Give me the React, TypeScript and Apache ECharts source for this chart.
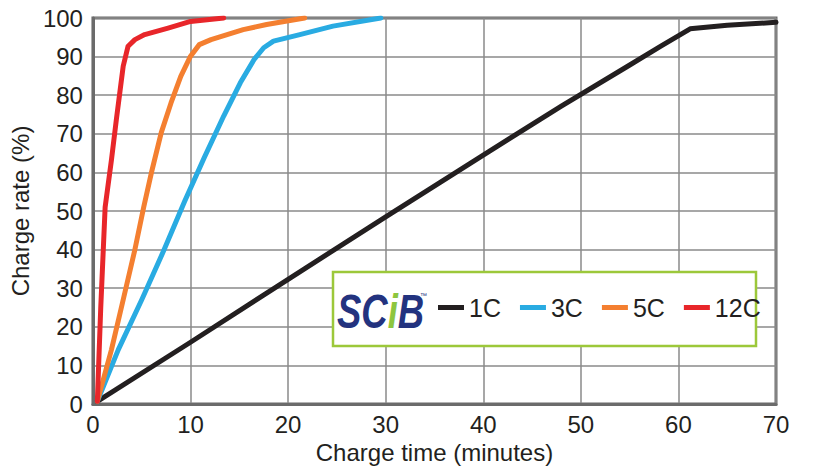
import React, { useEffect, useRef } from "react";
import * as echarts from "echarts";

const seriesNames = ["1C", "3C", "5C", "12C"];
const seriesColors = ["#231f20", "#29abe2", "#f47f30", "#e8262a"];

const data1C: [number, number][] = [
  [0.45, 0.7], [10, 16], [20, 32.3], [30, 48.5], [40, 64.5], [48, 77.2],
  [54.8, 87.5], [58.2, 92.7], [61.2, 97.2], [65, 98.1], [70, 98.9],
];
const data3C: [number, number][] = [
  [0.45, 0.7], [2.6, 14.1], [5, 27], [7.3, 40], [9.4, 52.5], [11.4, 63.8], [13.4, 74.6],
  [15.1, 83.2], [16.5, 89.2], [17.5, 92.3], [18.5, 94], [21.2, 95.7], [24.6, 97.9], [29.5, 100],
];
const data5C: [number, number][] = [
  [0.45, 0.7], [1.9, 14.1], [3.1, 27], [4.3, 40], [5.2, 51], [6, 60], [7, 70.3], [8, 78],
  [9, 84.9], [10, 90.1], [10.9, 93.1], [12.1, 94.4], [15.4, 97], [17.8, 98.3], [21.7, 100],
];
const data12C: [number, number][] = [
  [0.45, 0.7], [0.8, 25], [1.25, 51], [1.9, 63.3], [2.4, 73.7], [2.75, 80.6], [3.1, 87.5],
  [3.6, 92.7], [4.3, 94.4], [5.3, 95.7], [7.7, 97.4], [10, 99.1], [13.4, 100],
];
const allData = [data1C, data3C, data5C, data12C];

const xAxisName = "Charge time (minutes)";
const yAxisName = "Charge rate (%)";

const FONT = "'Liberation Sans', Arial, sans-serif";

export default function App() {
  const ref = useRef<HTMLDivElement>(null);
  useEffect(() => {
    if (!ref.current) return;
    const chart = echarts.init(ref.current, undefined, { renderer: "svg" });
    chart.setOption({
      animation: false,
      backgroundColor: "#ffffff",
      grid: {
        left: 88,
        top: 18,
        right: 37,
        bottom: 72,
        show: true,
        borderColor: "#6b6b6b",
        borderWidth: 3,
      },
      xAxis: {
        type: "value",
        min: 0,
        max: 70,
        interval: 10,
        name: xAxisName,
        nameLocation: "middle",
        nameGap: 34,
        nameTextStyle: { color: "#231f20", fontSize: 24, fontFamily: FONT },
        axisLine: { show: true, lineStyle: { color: "#6b6b6b", width: 3 } },
        axisTick: { show: false },
        axisLabel: { color: "#231f20", fontSize: 24, fontFamily: FONT, margin: 8 },
        splitLine: { show: true, lineStyle: { color: "#8a8a8a", width: 1.5 } },
      },
      yAxis: {
        type: "value",
        min: 0,
        max: 100,
        interval: 10,
        name: yAxisName,
        nameLocation: "middle",
        nameGap: 50,
        nameTextStyle: { color: "#231f20", fontSize: 24, fontFamily: FONT },
        axisLine: { show: true, lineStyle: { color: "#6b6b6b", width: 3 } },
        axisTick: { show: false },
        axisLabel: { color: "#231f20", fontSize: 24, fontFamily: FONT, margin: 10 },
        splitLine: { show: true, lineStyle: { color: "#8a8a8a", width: 1.5 } },
      },
      legend: {
        show: true,
        selectedMode: false,
        left: 438,
        top: 295,
        padding: 0,
        itemGap: 19,
        itemWidth: 26,
        itemHeight: 5,
        icon: "rect",
        z: 20,
        textStyle: { color: "#231f20", fontSize: 25, fontFamily: FONT },
        data: seriesNames,
      },
      graphic: [
        {
          type: "rect",
          z: 10,
          shape: { x: 333, y: 272, width: 423, height: 74 },
          style: { fill: "#ffffff", stroke: "#9cc83a", lineWidth: 2.5 },
        },
        {
          type: "text",
          z: 21,
          x: 337,
          y: 287,
          scaleX: 0.76,
          style: {
            text: "{a|SC}{b|i}{a|B}",
            rich: {
              a: { fontSize: 48, fontWeight: "bold", fontStyle: "italic", fill: "#23337f", fontFamily: FONT },
              b: { fontSize: 48, fontWeight: "bold", fontStyle: "italic", fill: "#8dc63f", fontFamily: FONT },
            },
          },
        },
        {
          type: "text",
          z: 21,
          x: 420,
          y: 292,
          style: { text: "™", fontSize: 7, fill: "#23337f", fontFamily: FONT },
        },
      ],
      series: seriesNames.map((name, i) => ({
        name,
        type: "line",
        data: allData[i],
        symbol: "none",
        smooth: false,
        color: seriesColors[i],
        lineStyle: { color: seriesColors[i], width: 5, join: "round", cap: "round" },
        z: 2 + i,
      })),
    });
    return () => chart.dispose();
  }, []);
  return <div ref={ref} style={{ width: 813, height: 476, position: "absolute", left: 0, top: 0 }} />;
}
